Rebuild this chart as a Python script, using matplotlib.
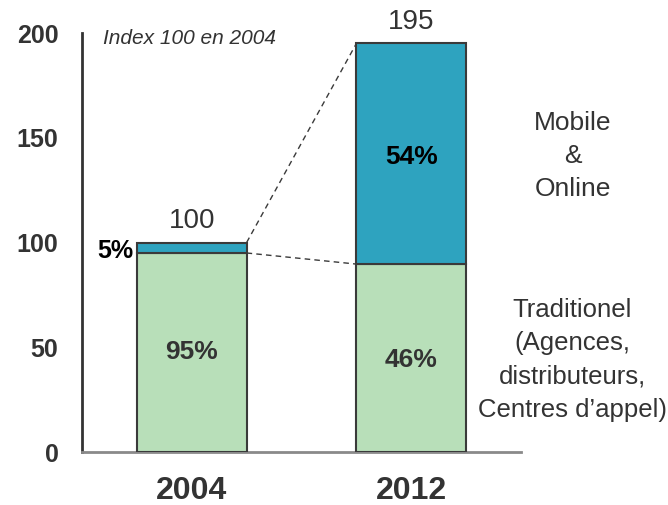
import matplotlib
matplotlib.use("Agg")
import matplotlib.pyplot as plt

years = ["2004", "2012"]
totals = [100, 195]
trad_share = [95, 46]
online_share = [5, 54]
yticks = [0, 50, 100, 150, 200]

trad = [t * s / 100 for t, s in zip(totals, trad_share)]
online = [t * s / 100 for t, s in zip(totals, online_share)]

GREEN = "#b8dfb9"
BLUE = "#2ea3bf"
EDGE = "#3a3a3a"
TXT = "#333333"
SANS = ["Liberation Sans", "DejaVu Sans"]

fig = plt.figure(figsize=(6.68, 5.05), dpi=100)
ax = fig.add_axes([82/668, 1 - 452/505, 439/668, 419/505])

w = 0.5
x = [0, 1]
ax.bar(x, trad, width=w, color=GREEN, edgecolor=EDGE, linewidth=1.5, zorder=3)
ax.bar(x, online, width=w, bottom=trad, color=BLUE, edgecolor=EDGE, linewidth=1.5, zorder=3)

# connecting dashed lines
ax.plot([x[0] + w/2, x[1] - w/2], [totals[0], totals[1]], ls=(0, (4, 3)), color=EDGE, lw=1, zorder=2)
ax.plot([x[0] + w/2, x[1] - w/2], [trad[0], trad[1]], ls=(0, (4, 3)), color=EDGE, lw=1, zorder=2)

ax.set_xlim(-0.5, 1.5)
ax.set_ylim(0, 200)
ax.set_yticks(yticks)
ax.set_yticklabels([str(v) for v in yticks], fontsize=18, fontweight="bold", color=TXT, family=SANS)
ax.set_xticks(x)
ax.set_xticklabels(years, fontsize=23, fontweight="bold", color=TXT, family=SANS)
ax.tick_params(axis="y", length=0, pad=17)
ax.tick_params(axis="x", length=0, pad=17)

for s in ["top", "right"]:
    ax.spines[s].set_visible(False)
ax.spines["left"].set_color(TXT)
ax.spines["left"].set_linewidth(2)
ax.spines["bottom"].set_color("#8a8a8a")
ax.spines["bottom"].set_linewidth(2)

# totals
for xi, t in zip(x, totals):
    ax.text(xi, t + 4, str(t), ha="center", va="bottom", fontsize=20, color=TXT, family=SANS)

# segment labels
ax.text(x[0], trad[0] / 2, f"{trad_share[0]}%", ha="center", va="center", fontsize=19, fontweight="bold", color=TXT, family=SANS)
ax.text(x[1], trad[1] / 2 - 1, f"{trad_share[1]}%", ha="center", va="center", fontsize=19, fontweight="bold", color=TXT, family=SANS)
ax.text(x[1], trad[1] + online[1] / 2 - 1.5, f"{online_share[1]}%", ha="center", va="center", fontsize=19, fontweight="bold", color="black", family=SANS)
ax.text(x[0] - w/2 - 0.015, trad[0] + online[0] / 2 - 1.5, f"{online_share[0]}%", ha="right", va="center", fontsize=18, fontweight="bold", color="black", family=SANS)

# right side labels
fig.text(573/668, 1 - 156/505, "Mobile\n&\nOnline", ha="center", va="center", fontsize=19, color=TXT, family=SANS, linespacing=1.5, multialignment="center")
fig.text(572/668, 1 - 360/505, "Traditionel\n(Agences,\ndistributeurs,\nCentres d\u2019appel)", ha="center", va="center", fontsize=18.5, color=TXT, family=SANS, linespacing=1.5, multialignment="center")

fig.text(103/668, 1 - 39/505, "Index 100 en 2004", ha="left", va="center", fontsize=15, style="italic", color=TXT, family=SANS)

fig.savefig("out.png", dpi=100)
